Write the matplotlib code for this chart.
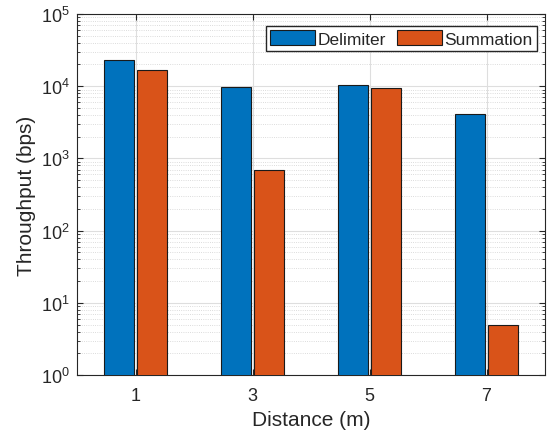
import matplotlib
matplotlib.use('Agg')
import matplotlib.pyplot as plt
from matplotlib.ticker import LogLocator, NullFormatter
import numpy as np

plt.rcParams['font.family'] = ['Liberation Sans', 'DejaVu Sans']
plt.rcParams['text.color'] = '#262626'
plt.rcParams['axes.labelcolor'] = '#262626'
plt.rcParams['xtick.color'] = '#262626'
plt.rcParams['ytick.color'] = '#262626'

# data
distance = [1, 3, 5, 7]
delimiter = [23000, 9900, 10500, 4150]
summation = [16600, 680, 9300, 5]

width = 0.52
offset = 0.28

fig = plt.figure(figsize=(5.48, 4.39), dpi=100)
ax = fig.add_axes([77 / 548, 1 - 376 / 439, (545 - 77) / 548, (376 - 15) / 439])

x = np.array(distance)
ax.bar(x - offset, delimiter, width, color='#0072BD', edgecolor='#1a1a1a',
       linewidth=0.8, label='Delimiter', zorder=3)
ax.bar(x + offset, summation, width, color='#D95319', edgecolor='#1a1a1a',
       linewidth=0.8, label='Summation', zorder=3)

ax.set_yscale('log')
ax.set_ylim(1, 1e5)
ax.set_xlim(0, 8)
ax.set_xticks(distance)
ax.yaxis.set_major_locator(LogLocator(base=10, numticks=10))
ax.yaxis.set_minor_locator(LogLocator(base=10, subs=np.arange(2, 10), numticks=20))
ax.yaxis.set_minor_formatter(NullFormatter())

ax.grid(True, which='major', color='#dedede', linewidth=0.8, zorder=0)
ax.grid(True, which='minor', axis='y', color='#d0d0d0', linestyle=':', linewidth=0.6, zorder=0)
ax.set_axisbelow(True)

ax.tick_params(which='both', direction='in', top=True, right=True, labelsize=13)
ax.tick_params(which='major', length=4)
ax.tick_params(which='minor', length=2)
ax.tick_params(axis='x', pad=9)
ax.tick_params(axis='y', pad=5)
for s in ax.spines.values():
    s.set_color('#262626')
    s.set_linewidth(0.8)

ax.set_xlabel('Distance (m)', fontsize=15, labelpad=4)
ax.set_ylabel('Throughput (bps)', fontsize=15, labelpad=4)

ax.legend(loc='upper right', ncol=2, fontsize=12.5, frameon=True, fancybox=False,
          edgecolor='#262626', framealpha=1, handlelength=2.6, handleheight=0.95,
          handletextpad=0.15, columnspacing=0.6, borderpad=0.25, borderaxespad=0,
          bbox_to_anchor=(0.983, 0.967))

fig.savefig('out.png', dpi=100)
